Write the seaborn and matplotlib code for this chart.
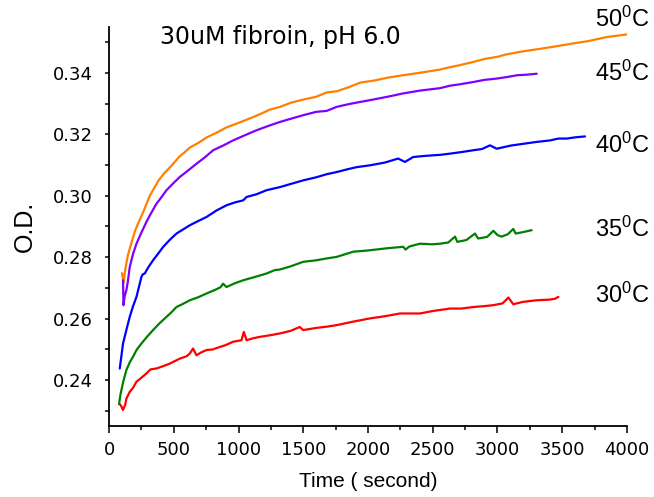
import matplotlib
matplotlib.use("Agg")
import numpy as np
import pandas as pd
import matplotlib.pyplot as plt
import seaborn as sns
from matplotlib.ticker import MultipleLocator, FormatStrFormatter

# 30uM fibroin, pH 6.0 -- O.D. vs time at five temperatures
t_50 = [100, 112, 125, 145, 165, 200, 230, 265, 315, 380, 420, 470, 545, 580, 625, 690, 755, 830,
        905, 1000, 1090, 1180, 1240, 1320, 1400, 1500, 1600, 1680, 1760, 1850, 1940, 2050, 2150,
        2270, 2400, 2550, 2630, 2700, 2810, 2900, 3000, 3070, 3200, 3330, 3450, 3590, 3700, 3840,
        3930, 4000]
od_50 = [0.2748, 0.2716, 0.2760, 0.2805, 0.2835, 0.2885, 0.2915, 0.2948, 0.3000, 0.3048, 0.3070,
         0.3092, 0.3128, 0.3140, 0.3157, 0.3172, 0.3190, 0.3205, 0.3222, 0.3237, 0.3252, 0.3268,
         0.3280, 0.3289, 0.3302, 0.3313, 0.3322, 0.3336, 0.3340, 0.3353, 0.3368, 0.3375, 0.3384,
         0.3392, 0.3400, 0.3410, 0.3418, 0.3424, 0.3435, 0.3445, 0.3452, 0.3460, 0.3470, 0.3478,
         0.3486, 0.3496, 0.3503, 0.3516, 0.3521, 0.3525]

t_45 = [108, 112, 120, 134, 145, 160, 185, 212, 250, 289, 315, 366, 392, 444, 490, 546, 610, 675,
        740, 804, 880, 958, 1050, 1139, 1242, 1319, 1400, 1499, 1600, 1680, 1757, 1850, 1937,
        2015, 2150, 2272, 2400, 2556, 2633, 2700, 2813, 2900, 2990, 3071, 3150, 3230, 3303]
od_45 = [0.2725, 0.2644, 0.2672, 0.2693, 0.2720, 0.2768, 0.2810, 0.2844, 0.2880, 0.2915, 0.2936,
         0.2974, 0.2988, 0.3018, 0.3038, 0.3061, 0.3082, 0.3104, 0.3125, 0.3148, 0.3163, 0.3180,
         0.3197, 0.3213, 0.3229, 0.3240, 0.3250, 0.3262, 0.3273, 0.3276, 0.3289, 0.3298, 0.3305,
         0.3311, 0.3322, 0.3333, 0.3342, 0.3350, 0.3358, 0.3362, 0.3370, 0.3377, 0.3381, 0.3386,
         0.3392, 0.3394, 0.3397]

t_40 = [83, 108, 135, 160, 185, 212, 235, 250, 262, 276, 300, 340, 380, 417, 470, 521, 570, 624,
        690, 753, 830, 907, 970, 1036, 1062, 1140, 1216, 1319, 1400, 1499, 1600, 1680, 1757, 1840,
        1912, 2015, 2130, 2233, 2285, 2349, 2450, 2556, 2633, 2720, 2813, 2880, 2942, 2994, 3100,
        3199, 3300, 3406, 3470, 3535, 3600, 3676]
od_40 = [0.2438, 0.2519, 0.2565, 0.2606, 0.2640, 0.2671, 0.2710, 0.2736, 0.2745, 0.2747, 0.2765,
         0.2790, 0.2812, 0.2833, 0.2857, 0.2877, 0.2890, 0.2904, 0.2918, 0.2931, 0.2952, 0.2969,
         0.2978, 0.2985, 0.2996, 0.3005, 0.3018, 0.3028, 0.3038, 0.3050, 0.3060, 0.3070, 0.3077,
         0.3086, 0.3093, 0.3099, 0.3108, 0.3121, 0.3110, 0.3126, 0.3130, 0.3133, 0.3137, 0.3142,
         0.3148, 0.3152, 0.3164, 0.3153, 0.3163, 0.3169, 0.3175, 0.3180, 0.3186, 0.3186, 0.3190,
         0.3193]

t_35 = [77, 90, 110, 134, 160, 185, 215, 250, 295, 340, 390, 444, 480, 521, 570, 624, 690, 753,
        820, 860, 881, 907, 970, 1036, 1120, 1216, 1280, 1319, 1400, 1499, 1600, 1680, 1757, 1886,
        2000, 2144, 2272, 2290, 2320, 2401, 2500, 2556, 2620, 2672, 2690, 2760, 2826, 2850, 2920,
        2968, 3000, 3032, 3080, 3122, 3140, 3200, 3264]
od_35 = [0.2322, 0.2357, 0.2395, 0.2433, 0.2458, 0.2476, 0.2500, 0.2519, 0.2542, 0.2563, 0.2585,
         0.2606, 0.2620, 0.2638, 0.2648, 0.2660, 0.2670, 0.2682, 0.2694, 0.2702, 0.2714, 0.2703,
         0.2715, 0.2725, 0.2735, 0.2747, 0.2758, 0.2760, 0.2770, 0.2785, 0.2790, 0.2796, 0.2801,
         0.2818, 0.2822, 0.2829, 0.2834, 0.2825, 0.2835, 0.2844, 0.2842, 0.2844, 0.2848, 0.2867,
         0.2850, 0.2856, 0.2877, 0.2861, 0.2866, 0.2886, 0.2872, 0.2867, 0.2875, 0.2892, 0.2877,
         0.2882, 0.2888]

t_30 = [83, 95, 108, 125, 134, 160, 185, 212, 250, 289, 320, 366, 420, 469, 546, 600, 624, 649,
        675, 710, 753, 800, 855, 900, 958, 1023, 1041, 1062, 1110, 1165, 1242, 1319, 1400, 1473,
        1499, 1600, 1680, 1757, 1880, 2015, 2130, 2247, 2401, 2500, 2633, 2720, 2813, 2900, 2968,
        3040, 3084, 3122, 3200, 3303, 3400, 3445, 3470]
od_30 = [0.2322, 0.2315, 0.2303, 0.2320, 0.2340, 0.2362, 0.2375, 0.2395, 0.2408, 0.2422, 0.2435,
         0.2438, 0.2446, 0.2454, 0.2470, 0.2478, 0.2487, 0.2503, 0.2481, 0.2490, 0.2498, 0.2500,
         0.2508, 0.2514, 0.2525, 0.2530, 0.2557, 0.2530, 0.2536, 0.2541, 0.2546, 0.2552, 0.2560,
         0.2573, 0.2563, 0.2570, 0.2574, 0.2579, 0.2590, 0.2601, 0.2608, 0.2617, 0.2617, 0.2625,
         0.2633, 0.2633, 0.2638, 0.2641, 0.2644, 0.2650, 0.2669, 0.2647, 0.2655, 0.2660, 0.2662,
         0.2665, 0.2671]

labels = ["50$^{0}$C", "45$^{0}$C", "40$^{0}$C", "35$^{0}$C", "30$^{0}$C"]
colors = ["#FF8000", "#8000FF", "#0000FF", "#008000", "#FF0000"]

sns.set_style("ticks")
plt.rcParams["font.family"] = ["Liberation Sans", "DejaVu Sans"]
plt.rcParams["mathtext.fontset"] = "custom"
plt.rcParams["mathtext.rm"] = "Liberation Sans"
plt.rcParams["mathtext.default"] = "regular"
plt.rcParams["text.color"] = "black"
plt.rcParams["axes.labelcolor"] = "black"

series = [(t_50, od_50), (t_45, od_45), (t_40, od_40), (t_35, od_35), (t_30, od_30)]
frames = []
for lab, (t, od) in zip(labels, series):
    frames.append(pd.DataFrame({"time": t, "od": od, "temp": lab}))
df = pd.concat(frames, ignore_index=True)

fig, ax = plt.subplots(figsize=(6.54, 4.97), dpi=100)
fig.subplots_adjust(left=0.1667, right=0.9587, bottom=0.1429, top=0.9463)

sns.lineplot(data=df, x="time", y="od", hue="temp", palette=colors, sort=False,
             estimator=None, linewidth=1.6, legend=False, ax=ax)

ax.set_xlim(0, 4000)
ax.set_ylim(0.2251, 0.355)
ax.xaxis.set_major_locator(MultipleLocator(500))
ax.xaxis.set_minor_locator(MultipleLocator(250))
ax.yaxis.set_major_locator(MultipleLocator(0.02))
ax.yaxis.set_minor_locator(MultipleLocator(0.01))
ax.yaxis.set_major_formatter(FormatStrFormatter("%.2f"))
ax.tick_params(which="both", colors="black", width=1.1)
ax.tick_params(axis="y", which="both", length=3, pad=8.5)
ax.tick_params(axis="x", which="major", length=5, pad=5.5)
ax.tick_params(axis="x", which="minor", length=3)
for lbl in ax.get_xticklabels() + ax.get_yticklabels():
    lbl.set_family("DejaVu Sans")
    lbl.set_fontsize(13)
for s in ["left", "bottom"]:
    ax.spines[s].set_linewidth(1.3)
    ax.spines[s].set_color("black")
sns.despine(ax=ax)

ax.set_xlabel("Time ( second)", fontsize=15)
ax.set_ylabel("O.D.", fontsize=18)
ax.xaxis.set_label_coords(0.5, -0.115)
ax.yaxis.set_label_coords(-0.14, 0.5)

ax.text(392, 0.3493, "30uM fibroin, pH 6.0", fontsize=17, family="DejaVu Sans",
        va="baseline", ha="left")

label_y = [0.3549, 0.3375, 0.3138, 0.2865, 0.2650]
for lab, yv in zip(labels, label_y):
    ax.text(3755, yv, lab, fontsize=17, va="baseline", ha="left", clip_on=False)

fig.savefig("out.png", dpi=100)
